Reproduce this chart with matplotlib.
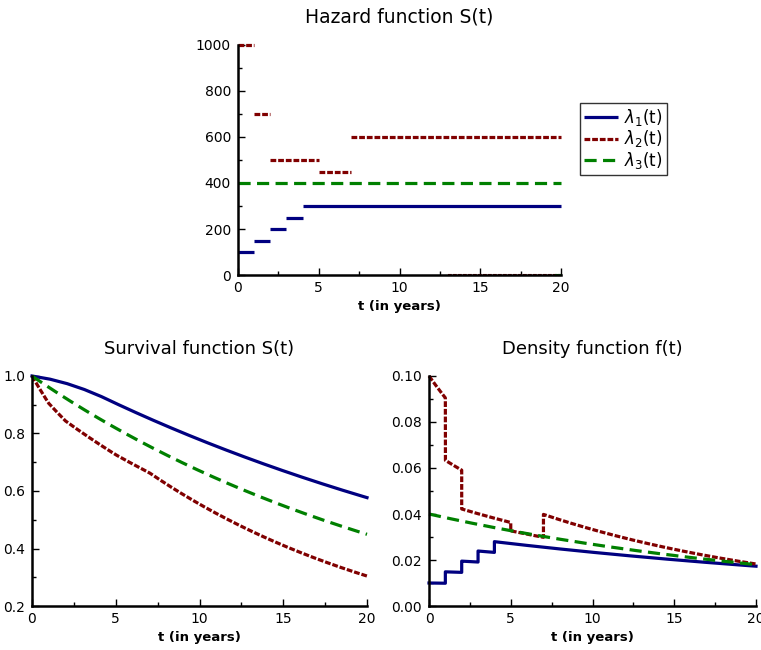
import numpy as np
import matplotlib
matplotlib.use("Agg")
import matplotlib.pyplot as plt
from matplotlib.ticker import MultipleLocator

# piecewise constant hazards, in units of 1e-4 per year
breaks1 = [0, 1, 2, 3, 4, 20]
haz1 = [100, 150, 200, 250, 300]
breaks2 = [0, 1, 2, 5, 7, 20]
haz2 = [1000, 700, 500, 450, 600]
breaks3 = [0, 20]
haz3 = [400]
# stray zero-level pieces that show up on the hazard panel
zero2 = [13, 20]
zero3 = [19.6, 20]

labels = [r"$\lambda_1$(t)", r"$\lambda_2$(t)", r"$\lambda_3$(t)"]
colors = ["#000080", "#800000", "#008000"]
lw = 2.3
styles = [dict(ls="-"), dict(ls=(0, (1.8, 0.6))), dict(ls=(0, (3.8, 2.0)))]
scale = 1e-4

plt.rcParams["font.family"] = "DejaVu Sans"
plt.rcParams["mathtext.fontset"] = "dejavusans"


def cumhaz(t, breaks, haz):
    b = np.asarray(breaks, float)
    h = np.asarray(haz, float) * scale
    w = np.clip(t[:, None] - b[:-1][None, :], 0, np.diff(b)[None, :])
    return w @ h


def survival(t, breaks, haz):
    return np.exp(-cumhaz(t, breaks, haz))


def density(breaks, haz):
    ts, fs = [], []
    for k in range(len(haz)):
        tt = np.linspace(breaks[k], breaks[k + 1], 200)
        ts.append(tt)
        fs.append(haz[k] * scale * survival(tt, breaks, haz))
    return np.concatenate(ts), np.concatenate(fs)


def steps(breaks, haz):
    xs, ys = [], []
    for k in range(len(haz)):
        xs += [breaks[k], breaks[k + 1], np.nan]
        ys += [haz[k], haz[k], np.nan]
    return xs, ys


def style_axes(ax, xlim, ylim, ymaj, ymin, fmt):
    ax.set_xlim(*xlim)
    ax.set_ylim(*ylim)
    for s in ["top", "right"]:
        ax.spines[s].set_visible(False)
    for s in ["left", "bottom"]:
        ax.spines[s].set_linewidth(1.8)
    ax.xaxis.set_major_locator(MultipleLocator(5))
    ax.xaxis.set_minor_locator(MultipleLocator(2.5))
    ax.yaxis.set_major_locator(MultipleLocator(ymaj))
    ax.yaxis.set_minor_locator(MultipleLocator(ymin))
    ax.yaxis.set_major_formatter(plt.FormatStrFormatter(fmt))
    ax.tick_params(which="both", direction="in", labelsize=10, width=1)
    ax.tick_params(which="major", length=5)
    ax.tick_params(which="minor", length=3)
    ax.tick_params(axis="y", pad=5)
    ax.tick_params(axis="x", pad=4)
    ax.set_xlabel("t (in years)", fontsize=9.5, fontweight="bold", labelpad=4)


W, H = 761, 650
fig = plt.figure(figsize=(W / 100, H / 100), dpi=100)

def axes_px(x0, x1, ytop, ybot):
    return fig.add_axes([x0 / W, 1 - ybot / H, (x1 - x0) / W, (ybot - ytop) / H])

# hazard panel
ax = axes_px(238, 561, 45, 275)
all_breaks = [breaks1, breaks2, breaks3]
all_haz = [haz1, haz2, haz3]
handles = []
for b, h, c, st, lab in zip(all_breaks, all_haz, colors, styles, labels):
    xs, ys = steps(b, h)
    ln, = ax.plot(xs, ys, color=c, lw=lw, label=lab, solid_capstyle="butt", clip_on=False, **st)
    handles.append(ln)
ax.plot(zero2, [0, 0], color=colors[1], lw=1.5, clip_on=False, **styles[1])
ax.plot(zero3, [0, 0], color=colors[2], lw=1.5, clip_on=False, **styles[2])
style_axes(ax, (0, 20), (0, 1000), 200, 100, "%d")
ax.set_title("Hazard function S(t)", fontsize=13.5, pad=16)
fig.legend(handles=handles, loc="upper left", bbox_to_anchor=(580 / W, 1 - 103 / H),
           fontsize=12, frameon=True, fancybox=False, edgecolor="black",
           handlelength=2.0, handletextpad=0.4, borderpad=0.25, labelspacing=0.02,
           borderaxespad=0)

# survival panel
t = np.linspace(0, 20, 801)
ax = axes_px(32, 367, 376, 606)
for b, h, c, st in zip(all_breaks, all_haz, colors, styles):
    ax.plot(t, survival(t, b, h), color=c, lw=lw, clip_on=False, **st)
style_axes(ax, (0, 20), (0.2, 1.0), 0.2, 0.1, "%.1f")
ax.set_title("Survival function S(t)", fontsize=13, pad=16)

# density panel
ax = axes_px(429, 756, 376, 606)
for b, h, c, st in zip(all_breaks, all_haz, colors, styles):
    tt, ff = density(b, h)
    ax.plot(tt, ff, color=c, lw=lw, clip_on=False, **st)
style_axes(ax, (0, 20), (0, 0.10), 0.02, 0.01, "%.2f")
ax.set_title("Density function f(t)", fontsize=13, pad=16)

fig.savefig("out.png", dpi=100)
